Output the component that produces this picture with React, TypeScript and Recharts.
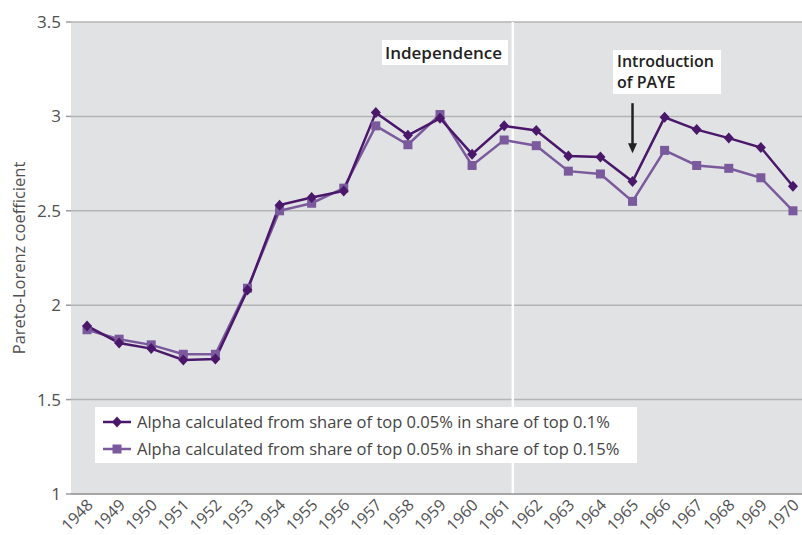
import { LineChart, Line, XAxis, YAxis, CartesianGrid, ReferenceLine, Legend } from 'recharts'

const years = [1948, 1949, 1950, 1951, 1952, 1953, 1954, 1955, 1956, 1957, 1958, 1959, 1960, 1961, 1962, 1963, 1964, 1965, 1966, 1967, 1968, 1969, 1970]
// alpha from share of top 0.05% in share of top 0.1%
const alphaTop01 = [1.89, 1.80, 1.77, 1.71, 1.715, 2.08, 2.53, 2.57, 2.605, 3.02, 2.90, 2.99, 2.80, 2.95, 2.925, 2.79, 2.785, 2.655, 2.995, 2.93, 2.885, 2.835, 2.63]
// alpha from share of top 0.05% in share of top 0.15%
const alphaTop015 = [1.87, 1.82, 1.79, 1.74, 1.74, 2.09, 2.50, 2.54, 2.62, 2.95, 2.85, 3.01, 2.74, 2.875, 2.845, 2.71, 2.695, 2.55, 2.82, 2.74, 2.725, 2.675, 2.50]
const yTicks = [1, 1.5, 2, 2.5, 3, 3.5]
// tick marks sit between the years
const yearEdges = years.map(y => y - 0.5)

const independenceYear = 1961.27
const payeArrow = [{ x: 1965, y: 3.07 }, { x: 1965, y: 2.805 }]

const seriesNames = {
  a: 'Alpha calculated from share of top 0.05% in share of top 0.1%',
  b: 'Alpha calculated from share of top 0.05% in share of top 0.15%',
}

const DARK = '#4a176b'
const LIGHT = '#7a5a9c'
const FONT = '"Open Sans", "Liberation Sans", sans-serif'

const rows = years.map((year, i) => ({ year, a: alphaTop01[i], b: alphaTop015[i] }))

const Diamond = ({ cx, cy, fill }: any) => (
  <polygon points={`${cx},${cy - 5.5} ${cx + 5},${cy} ${cx},${cy + 5.5} ${cx - 5},${cy}`} fill={fill} />
)

const Square = ({ cx, cy, fill }: any) => (
  <rect x={cx - 4.5} y={cy - 4.5} width={9} height={9} fill={fill} />
)

const YearTick = ({ x, y, payload }: any) => (
  <text
    x={x + 7}
    y={y + 11}
    transform={`rotate(-45 ${x + 7} ${y + 11})`}
    textAnchor="end"
    fontSize={16}
    fill="#505050"
    fontFamily={FONT}
  >
    {payload.value}
  </text>
)

const Arrow = ({ x1, y1, x2, y2 }: any) => (
  <g>
    <line x1={x1} y1={y1} x2={x2} y2={y2 - 8} stroke="#222" strokeWidth={2.5} />
    <polygon points={`${x2 - 4.5},${y2 - 10} ${x2 + 4.5},${y2 - 10} ${x2},${y2}`} fill="#222" />
  </g>
)

const LegendBox = ({ payload }: any) => (
  <div style={{ background: '#fff', width: 542, height: 56, padding: '1px 0', boxSizing: 'border-box', fontFamily: FONT }}>
    {(payload || []).map((entry: any) => {
      const isA = entry.dataKey === 'a'
      return (
        <div key={entry.dataKey} style={{ display: 'flex', alignItems: 'center', height: 27 }}>
          <svg width={42} height={14} style={{ flex: 'none' }}>
            <line x1={8} y1={7} x2={36} y2={7} stroke={entry.color} strokeWidth={2.5} />
            {isA ? <Diamond cx={22} cy={7} fill={entry.color} /> : <Square cx={22} cy={7} fill={entry.color} />}
          </svg>
          <span style={{ fontSize: 16.5, color: '#444', whiteSpace: 'nowrap' }}>{entry.value}</span>
        </div>
      )
    })}
  </div>
)

export default function App() {
  return (
    <div style={{ position: 'absolute', left: 0, top: 0, width: 802, height: 535, overflow: 'hidden', background: '#fff', fontFamily: FONT }}>
      <LineChart width={830} height={535} data={rows} margin={{ top: 22, right: 21, bottom: 39, left: 11 }}>
        <CartesianGrid xAxisId="years" vertical={false} fill="#e1e2e4" fillOpacity={1} stroke="#b4b4b4" strokeWidth={1.5} />
        <XAxis
          xAxisId="edges"
          type="number"
          dataKey="year"
          domain={[1947.5, 1970.5]}
          ticks={yearEdges}
          interval={0}
          tick={false}
          tickSize={5}
          height={1}
          axisLine={{ stroke: '#9c9c9c', strokeWidth: 1.5 }}
          tickLine={{ stroke: '#9c9c9c', strokeWidth: 1.5 }}
        />
        <XAxis
          xAxisId="years"
          type="number"
          dataKey="year"
          domain={[1947.5, 1970.5]}
          ticks={years}
          interval={0}
          tick={YearTick}
          tickLine={false}
          axisLine={false}
          tickSize={0}
          tickMargin={0}
          height={1}
        />
        <YAxis
          domain={[1, 3.5]}
          ticks={yTicks}
          interval={0}
          width={60}
          axisLine={false}
          tickLine={{ stroke: '#9c9c9c', strokeWidth: 1.5 }}
          tickSize={5}
          tickMargin={5}
          tick={{ fontSize: 17, fill: '#505050', fontFamily: FONT }}
          label={{
            value: 'Pareto-Lorenz coefficient',
            angle: -90,
            position: 'insideLeft',
            offset: 8,
            style: { textAnchor: 'middle', fontSize: 16.5, fill: '#505050', fontFamily: FONT },
          }}
        />
        <ReferenceLine xAxisId="years" x={independenceYear} stroke="#ffffff" strokeWidth={2.5} />
        <ReferenceLine xAxisId="years" segment={payeArrow} shape={Arrow} />
        <Line
          xAxisId="years"
          dataKey="b"
          name={seriesNames.b}
          stroke={LIGHT}
          strokeWidth={2.5}
          dot={<Square />}
          fill={LIGHT}
          isAnimationActive={false}
        />
        <Line
          xAxisId="years"
          dataKey="a"
          name={seriesNames.a}
          stroke={DARK}
          strokeWidth={2.5}
          dot={<Diamond />}
          fill={DARK}
          isAnimationActive={false}
        />
        <Legend
          layout="vertical"
          align="center"
          verticalAlign="middle"
          content={LegendBox}
          wrapperStyle={{ left: 95, top: 407, width: 542, height: 56 }}
        />
      </LineChart>
      <div style={{ position: 'absolute', left: 382, top: 40, width: 126, height: 25, background: '#fff', boxSizing: 'border-box', paddingLeft: 3, fontSize: 17, lineHeight: '25px', fontWeight: 600, color: '#222' }}>
        Independence
      </div>
      <div style={{ position: 'absolute', left: 613, top: 50, width: 108, height: 44, background: '#fff', boxSizing: 'border-box', padding: '1px 0 0 4px', fontSize: 16, lineHeight: '21px', fontWeight: 600, color: '#222' }}>
        Introduction<br />of PAYE
      </div>
    </div>
  )
}
